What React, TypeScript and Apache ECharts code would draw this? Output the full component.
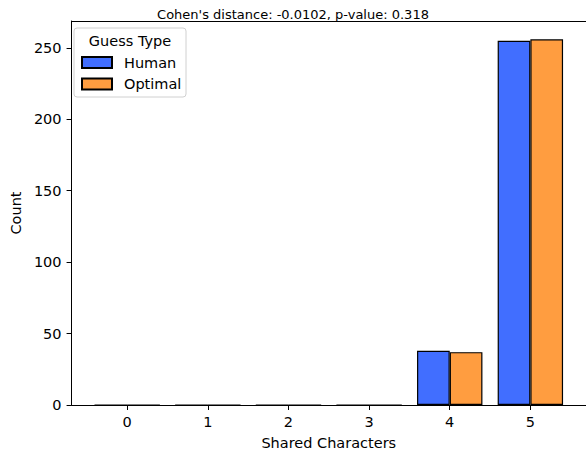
import React, { useEffect, useRef } from "react";
import * as echarts from "echarts";

const categories = [0, 1, 2, 3, 4, 5];
const humanCounts = [0, 0, 0, 0, 38, 255];
const optimalCounts = [0, 0, 0, 0, 37, 256];
const yTicks = [0, 50, 100, 150, 200, 250];
const seriesNames = ["Human", "Optimal"];
const titleText = "Cohen's distance: -0.0102, p-value: 0.318";

const FONT = "DejaVu Sans";
const FS = 14.5;
const TFS = 13;

export default function App() {
  const ref = useRef<HTMLDivElement>(null);
  useEffect(() => {
    if (!ref.current) return;
    const chart = echarts.init(ref.current, null, { renderer: "svg" });
    const barStyle = (color: string) => ({
      color,
      borderColor: "#000",
      borderWidth: 1.2,
    });
    chart.setOption({
      animation: false,
      textStyle: { fontFamily: FONT },
      title: {
        text: titleText,
        left: "center",
        top: 3,
        textStyle: { fontFamily: FONT, fontSize: TFS, fontWeight: "normal", color: "#000" },
      },
      grid: { left: 67, top: 21, width: 522, bottom: 45 },
      xAxis: [
        {
          type: "value",
          min: -0.69,
          max: 5.69,
          name: "Shared Characters",
          nameLocation: "middle",
          nameGap: 30,
          nameTextStyle: { fontFamily: FONT, fontSize: FS, color: "#000" },
          splitLine: { show: false },
          axisLine: { show: true, onZero: false, lineStyle: { color: "#000", width: 1 } },
          axisTick: { show: true, length: 5, lineStyle: { color: "#000" }, customValues: categories },
          axisLabel: {
            fontFamily: FONT,
            fontSize: FS,
            color: "#000",
            margin: 9,
            customValues: categories,
          },
        },
        {
          type: "value",
          position: "top",
          min: -0.69,
          max: 5.69,
          splitLine: { show: false },
          axisLine: { show: true, onZero: false, lineStyle: { color: "#000", width: 1 } },
          axisTick: { show: false },
          axisLabel: { show: false },
        },
      ],
      yAxis: {
        type: "value",
        min: 0,
        max: 268.8,
        name: "Count",
        nameLocation: "middle",
        nameGap: 43,
        nameTextStyle: { fontFamily: FONT, fontSize: FS, color: "#000" },
        splitLine: { show: false },
        axisLine: { show: true, onZero: false, lineStyle: { color: "#000", width: 1 } },
        axisTick: { show: true, length: 5, lineStyle: { color: "#000" }, customValues: yTicks },
        axisLabel: {
          fontFamily: FONT,
          fontSize: FS,
          color: "#000",
          margin: 10,
          customValues: yTicks,
        },
      },
      legend: {
        orient: "vertical",
        left: 76,
        top: 50,
        itemWidth: 30,
        itemHeight: 11,
        itemGap: 6.5,
        icon: "rect",
        textStyle: { fontFamily: FONT, fontSize: FS, color: "#000", padding: [0, 0, 0, 7] },
        data: seriesNames,
      },
      graphic: [
        {
          type: "rect",
          shape: { x: 74, y: 28, width: 112, height: 69, r: 3 },
          style: { fill: "rgba(255,255,255,0.8)", stroke: "#d0d0d0", lineWidth: 1 },
          z: 0,
          silent: true,
        },
        {
          type: "text",
          x: 130,
          y: 41,
          style: {
            text: "Guess Type",
            fontFamily: FONT,
            fontSize: FS,
            fill: "#000",
            align: "center",
            verticalAlign: "middle",
          },
          z: 10,
        },
      ],
      series: [
        {
          name: seriesNames[0],
          type: "bar",
          xAxisIndex: 0,
          barWidth: 32.7,
          barGap: "0%",
          itemStyle: barStyle("#416eff"),
          data: categories.map((c, i) => [c, humanCounts[i]]),
        },
        {
          name: seriesNames[1],
          type: "bar",
          xAxisIndex: 0,
          barWidth: 32.7,
          barGap: "0%",
          itemStyle: barStyle("#ff9d40"),
          data: categories.map((c, i) => [c, optimalCounts[i]]),
        },
      ],
    });
    return () => chart.dispose();
  }, []);
  return (
    <div
      ref={ref}
      style={{ position: "fixed", left: 0, top: 0, width: 586, height: 455, background: "#fff" }}
    />
  );
}
